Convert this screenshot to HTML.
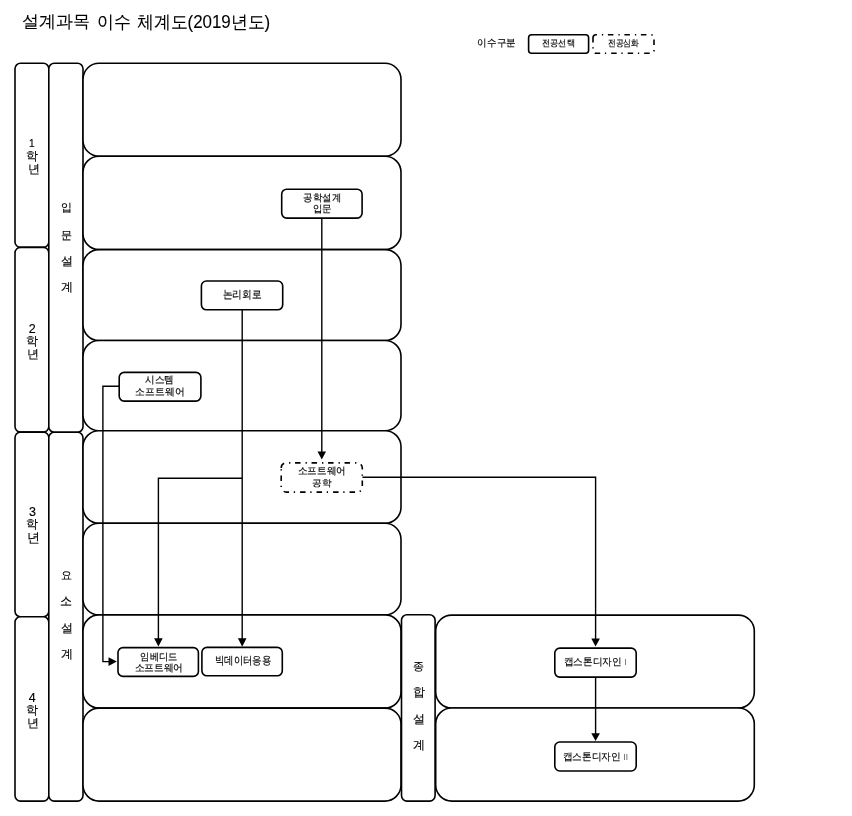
<!DOCTYPE html>
<html><head><meta charset="utf-8">
<style>
html,body{margin:0;padding:0;background:#fff;width:852px;height:816px;overflow:hidden}
svg{display:block;will-change:transform}
text{font-family:"Liberation Sans", sans-serif;fill:#000;text-anchor:middle;stroke:#000;stroke-width:0.15}
#t1,#t2,#t3{stroke-width:0.1}
.r{stroke:none}
.b{fill:#fff;stroke:#000;stroke-width:1.6}
.c{fill:#fff;stroke:#000;stroke-width:1.6}
.d{fill:#fff;stroke:#000;stroke-width:1.6;stroke-dasharray:5.5 5 1.3 4.7}
.e{fill:none;stroke:#000;stroke-width:1.4}
.r{fill:#555}
</style></head><body>
<svg width="852" height="816" viewBox="0 0 852 816">

<!-- legend -->
<rect class="c" x="528.6" y="34.8" width="60" height="18.4" rx="3"/>
<path class="d" d="M593 37.8A3 3 0 0 1 596 34.8H651A3 3 0 0 1 654 37.8V50.2A3 3 0 0 1 651 53.2H596A3 3 0 0 1 593 50.2Z"/>

<!-- grade column -->
<rect class="b" x="15" y="63.3" width="33.8" height="184.1" rx="5.5"/>
<rect class="b" x="15" y="247.4" width="33.8" height="184.7" rx="5.5"/>
<rect class="b" x="15" y="432.1" width="33.8" height="184.6" rx="5.5"/>
<rect class="b" x="15" y="616.7" width="33.8" height="184.4" rx="5.5"/>

<!-- design column -->
<rect class="b" x="48.8" y="63.3" width="34.2" height="368.9" rx="5.5"/>
<rect class="b" x="48.8" y="432.2" width="34.2" height="368.9" rx="5.5"/>

<!-- big rows -->
<rect class="b" x="83" y="63.3" width="318" height="92.9" rx="16"/>
<rect class="b" x="83" y="156.2" width="318" height="93.4" rx="16"/>
<rect class="b" x="83" y="249.6" width="318" height="90.9" rx="16"/>
<rect class="b" x="83" y="340.5" width="318" height="90.2" rx="16"/>
<rect class="b" x="83" y="430.7" width="318" height="92.6" rx="16"/>
<rect class="b" x="83" y="523.3" width="318" height="91.6" rx="16"/>
<rect class="b" x="83" y="614.9" width="318" height="93.2" rx="16"/>
<rect class="b" x="83" y="708.1" width="318" height="93.0" rx="16"/>

<rect class="b" x="401.5" y="614.8" width="33.6" height="186.3" rx="5.5"/>
<rect class="b" x="435.7" y="615.1" width="318.6" height="92.9" rx="16"/>
<rect class="b" x="435.7" y="708" width="318.6" height="93.1" rx="16"/>

<!-- connectors -->
<path class="e" d="M321.8 218 V452"/>
<path d="M317.5 451.4 L326 451.4 L321.8 459.6 Z"/>
<path class="e" d="M242.2 310 V639"/>
<path d="M237.9 638.3 L246.5 638.3 L242.2 646.7 Z"/>
<path class="e" d="M242.2 478.3 H158.4 V639"/>
<path d="M154.1 638.3 L162.7 638.3 L158.4 646.6 Z"/>
<path class="e" d="M119.2 386.2 H102.9 V661.6 H109"/>
<path d="M108.5 657.2 L108.5 666 L116.8 661.6 Z"/>
<path class="e" d="M362.2 477.2 H595.6 V639"/>
<path d="M591.3 638.5 L599.9 638.5 L595.6 646.6 Z"/>
<path class="e" d="M595.6 677 V734"/>
<path d="M591.3 733.3 L599.9 733.3 L595.6 741 Z"/>

<!-- course boxes -->
<rect class="c" x="281.7" y="189.2" width="80.4" height="28.9" rx="5"/>
<rect class="c" x="201.4" y="281" width="81.3" height="28.8" rx="5"/>
<rect class="c" x="119.2" y="372.4" width="81.7" height="28.7" rx="5"/>
<path class="d" d="M281.2 467.9A5 5 0 0 1 286.2 462.9H357.3A5 5 0 0 1 362.3 467.9V487.1A5 5 0 0 1 357.3 492.1H286.2A5 5 0 0 1 281.2 487.1Z"/>
<rect class="c" x="118" y="647.6" width="80.4" height="28.8" rx="5"/>
<rect class="c" x="201.9" y="647.4" width="80.4" height="28.4" rx="5"/>
<rect class="c" x="554.8" y="648.1" width="81.4" height="29" rx="5"/>
<rect class="c" x="554.8" y="742" width="81.4" height="29" rx="5"/>
<text id="t1" x="56.12" y="27.48" font-size="17.15" textLength="67.77" lengthAdjust="spacingAndGlyphs">설계과목</text>
<text id="t2" x="113.7" y="27.68" font-size="18" textLength="33.79" lengthAdjust="spacingAndGlyphs">이수</text>
<text id="t3" x="203.5" y="27.96" font-size="18" textLength="133.49" lengthAdjust="spacingAndGlyphs">체계도(2019년도)</text>
<text id="lg" x="496.66" y="45.76" font-size="9.79" textLength="38.36" lengthAdjust="spacingAndGlyphs">이수구분</text>
<text id="l1" x="558.5" y="46.27" font-size="8.94" textLength="32.96" lengthAdjust="spacingAndGlyphs">전공선택</text>
<text id="l2" x="623.3" y="46.27" font-size="8.94" textLength="31.05" lengthAdjust="spacingAndGlyphs">전공심화</text>
<text id="g1" x="31.82" y="146.85" font-size="10.08">1</text>
<text id="g2" x="32.2" y="332.81" font-size="12.48">2</text>
<text id="g3" x="32.48" y="515.53" font-size="12.48">3</text>
<text id="g4" x="32.18" y="701.53" font-size="12.48">4</text>
<text id="h1" x="32.14" y="159.91" font-size="11.53">학</text>
<text id="n1" x="33.62" y="172.62" font-size="12.18">년</text>
<text id="h2" x="32.18" y="344.7" font-size="12.06">학</text>
<text id="n2" x="33.28" y="358.3" font-size="12.37">년</text>
<text id="h3" x="32.18" y="528.11" font-size="11.88">학</text>
<text id="n3" x="33.28" y="541.67" font-size="12.95">년</text>
<text id="h4" x="32.18" y="713.79" font-size="11.88">학</text>
<text id="n4" x="33.28" y="727.02" font-size="12.37">년</text>
<text id="a1" x="66" y="211.45" font-size="11.35">입</text>
<text id="a2" x="66.5" y="238.63" font-size="11.24">문</text>
<text id="a3" x="66.84" y="264.58" font-size="11.67">설</text>
<text id="a4" x="66.84" y="290.68" font-size="11.5">계</text>
<text id="b1" x="66.98" y="579.36" font-size="10.7">요</text>
<text id="b2" x="66.32" y="605.32" font-size="11.5">소</text>
<text id="b3" x="66.84" y="631.58" font-size="11.67">설</text>
<text id="b4" x="66.84" y="658.34" font-size="12.37">계</text>
<text id="c1" x="418.82" y="669.69" font-size="11">종</text>
<text id="c2" x="419.34" y="696.47" font-size="11.88">합</text>
<text id="c3" x="419.2" y="722.58" font-size="11.67">설</text>
<text id="c4" x="418.92" y="748.98" font-size="12.37">계</text>
<text id="k1" x="322.14" y="201.32" font-size="9.57" textLength="37.65" lengthAdjust="spacingAndGlyphs">공학설계</text>
<text id="k2" x="322.5" y="212.41" font-size="9.66" textLength="18.95" lengthAdjust="spacingAndGlyphs">입문</text>
<text id="k3" x="241.98" y="297.96" font-size="10.82" textLength="38.95" lengthAdjust="spacingAndGlyphs">논리회로</text>
<text id="k4" x="159.58" y="383.34" font-size="9.57" textLength="28.81" lengthAdjust="spacingAndGlyphs">시스템</text>
<text id="k5" x="159.82" y="394.54" font-size="9.74" textLength="49.08" lengthAdjust="spacingAndGlyphs">소프트웨어</text>
<text id="k6" x="321.84" y="474.34" font-size="10.09" textLength="48.12" lengthAdjust="spacingAndGlyphs">소프트웨어</text>
<text id="k7" x="321.76" y="485.62" font-size="9.34" textLength="19.28" lengthAdjust="spacingAndGlyphs">공학</text>
<text id="k8" x="158.98" y="660.28" font-size="10.09" textLength="37.27" lengthAdjust="spacingAndGlyphs">임베디드</text>
<text id="k9" x="158.86" y="671.25" font-size="10.27" textLength="48.71" lengthAdjust="spacingAndGlyphs">소프트웨어</text>
<text id="k10" x="243" y="664.31" font-size="10.64" textLength="56.55" lengthAdjust="spacingAndGlyphs">빅데이터응용</text>
<text id="k11" x="595" y="665.24" font-size="9.8" textLength="62.97" lengthAdjust="spacingAndGlyphs">캡스톤디자인 <tspan class="r" font-size="8.33">I</tspan></text>
<text id="k12" x="595.34" y="759.52" font-size="9.8" textLength="65.53" lengthAdjust="spacingAndGlyphs">캡스톤디자인 <tspan class="r" font-size="8.33">II</tspan></text>
</svg>
</body></html>
